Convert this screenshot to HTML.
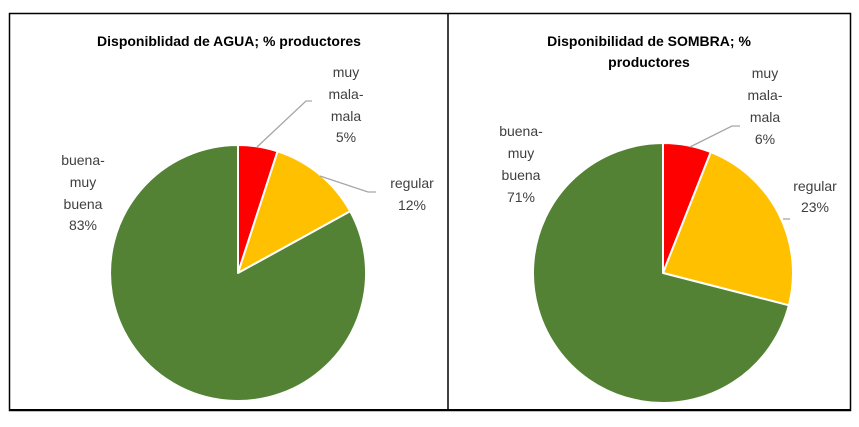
<!DOCTYPE html>
<html><head><meta charset="utf-8"><style>
body{margin:0;background:#fff;}
svg{display:block;font-family:"Liberation Sans",sans-serif;}
.t{font-weight:bold;font-size:14px;fill:#000;}
.l{font-size:14px;fill:#404040;}
</style></head><body>
<svg width="859" height="427" viewBox="0 0 859 427">
<rect x="9.5" y="13.5" width="841" height="397" fill="none" stroke="#000" stroke-width="1.5"/>
<line x1="448" y1="13" x2="448" y2="411" stroke="#000" stroke-width="1.5"/>
<line x1="9" y1="410" x2="851" y2="410" stroke="#000" stroke-width="2"/>
<text class="t" x="229" y="46" text-anchor="middle">Disponiblidad de AGUA; % productores</text>
<g stroke="#fff" stroke-width="2" stroke-linejoin="round">
<path d="M238,273 L238,145 A128,128 0 0 1 277.6,151.3 Z" fill="#ff0000"/>
<path d="M238,273 L277.6,151.3 A128,128 0 0 1 350.2,211.3 Z" fill="#ffc000"/>
<path d="M238,273 L350.2,211.3 A128,128 0 1 1 238,145 Z" fill="#548235"/>
</g>
<polyline points="257,147 306,101 312,101" fill="none" stroke="#a6a6a6" stroke-width="1.3"/>
<polyline points="320,176 368,192 376,192" fill="none" stroke="#a6a6a6" stroke-width="1.3"/>
<g class="l" text-anchor="middle">
<text x="346" y="77">muy</text><text x="346" y="99">mala-</text><text x="346" y="121">mala</text><text x="346" y="142">5%</text>
<text x="412" y="188">regular</text><text x="412" y="210">12%</text>
<text x="83" y="165">buena-</text><text x="83" y="187">muy</text><text x="83" y="209">buena</text><text x="83" y="230">83%</text>
</g>
<text class="t" x="649" y="46" text-anchor="middle">Disponibilidad de SOMBRA; %</text>
<text class="t" x="649" y="67" text-anchor="middle">productores</text>
<g stroke="#fff" stroke-width="2" stroke-linejoin="round">
<path d="M663,273 L663,143 A130,130 0 0 1 710.8,152.1 Z" fill="#ff0000"/>
<path d="M663,273 L710.8,152.1 A130,130 0 0 1 788.9,305.3 Z" fill="#ffc000"/>
<path d="M663,273 L788.9,305.3 A130,130 0 1 1 663,143 Z" fill="#548235"/>
</g>
<polyline points="690,147 732,126 740,126" fill="none" stroke="#a6a6a6" stroke-width="1.3"/>
<polyline points="783,219 790,219" fill="none" stroke="#a6a6a6" stroke-width="1.3"/>
<g class="l" text-anchor="middle">
<text x="765" y="78">muy</text><text x="765" y="100">mala-</text><text x="765" y="122">mala</text><text x="765" y="144">6%</text>
<text x="815" y="191">regular</text><text x="815" y="212">23%</text>
<text x="521" y="136">buena-</text><text x="521" y="158">muy</text><text x="521" y="180">buena</text><text x="521" y="202">71%</text>
</g>
</svg>
</body></html>
